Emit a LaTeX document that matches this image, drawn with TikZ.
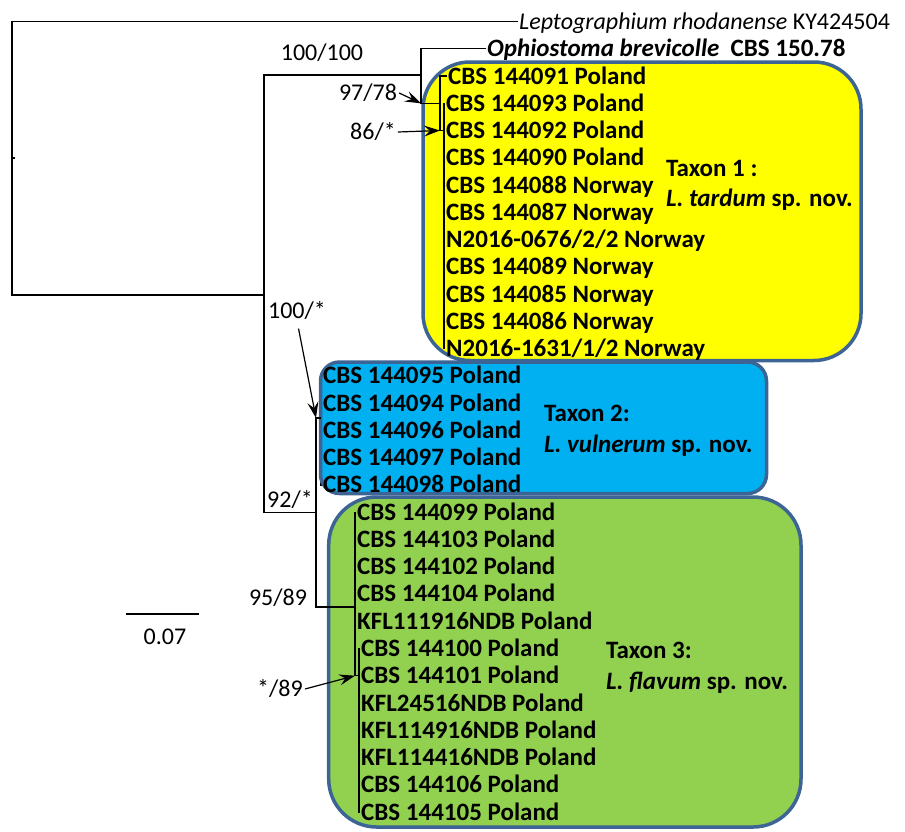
\documentclass[tikz,border=0pt]{standalone}
\usepackage{fontspec}
\setmainfont{Carlito}
\usetikzlibrary{arrows.meta,backgrounds}
\definecolor{txYellow}{HTML}{FFFF00}
\definecolor{txBlue}{HTML}{00B0F0}
\definecolor{txGreen}{HTML}{92D050}
\definecolor{txEdge}{HTML}{3C6494}

\begin{document}
\begin{tikzpicture}[
  x=1pt,y=-1pt,
  branch/.style={line width=1.3pt,black},
  clade/.style={draw=txEdge,line width=3.5pt},
  leaf/.style={anchor=west,inner sep=1pt,text height=16pt,text depth=0pt,font=\fontsize{25}{27}\selectfont\bfseries},
  support/.style={inner sep=2pt,text height=15pt,text depth=0pt,font=\fontsize{24}{26}\selectfont},
  pointer/.style={-{Stealth[length=16pt,width=11pt,inset=6pt]},line width=1.2pt}
]
  \useasboundingbox (0,0) rectangle (905,831);

  % internal nodes of the tree
  \coordinate (nRoot) at (12,158);
  \coordinate (nA) at (264,295);
  \coordinate (nB) at (421,75);
  \coordinate (nC) at (440,103.3);
  \coordinate (nD) at (444,130.5);
  \coordinate (nE) at (316,512.2);
  \coordinate (nF) at (321,418);
  \coordinate (nG) at (355,607);
  \coordinate (nH) at (359,675.7);

  % outgroups
  \node[support,anchor=west,inner sep=1pt] (lepto) at (518,21.5) {\textit{Leptographium rhodanense} KY424504};
  \node[leaf] (ophio) at (486,48.7) {\textit{Ophiostoma brevicolle}\ \ CBS 150.78};

  % taxon 1
  \node[leaf] (t1) at (447,76) {CBS 144091 Poland};
  \node[leaf] (t2) at (445,103.3) {CBS 144093 Poland};
  \node[leaf] (t3) at (445,130.5) {CBS 144092 Poland};
  \node[leaf] (t4) at (445,157.8) {CBS 144090 Poland};
  \node[leaf] (t5) at (445,185) {CBS 144088 Norway};
  \node[leaf] (t6) at (445,212.3) {CBS 144087 Norway};
  \node[leaf] (t7) at (445,239.6) {N2016-0676/2/2 Norway};
  \node[leaf] (t8) at (445,266.8) {CBS 144089 Norway};
  \node[leaf] (t9) at (445,294.1) {CBS 144085 Norway};
  \node[leaf] (t10) at (445,321.3) {CBS 144086 Norway};
  \node[leaf] (t11) at (445,348.6) {N2016-1631/1/2 Norway};

  % taxon 2
  \node[leaf] (v1) at (322,375.9) {CBS 144095 Poland};
  \node[leaf] (v2) at (322,403.1) {CBS 144094 Poland};
  \node[leaf] (v3) at (322,430.4) {CBS 144096 Poland};
  \node[leaf] (v4) at (322,457.6) {CBS 144097 Poland};
  \node[leaf] (v5) at (322,484.9) {CBS 144098 Poland};

  % taxon 3
  \node[leaf] (f1) at (356,512.2) {CBS 144099 Poland};
  \node[leaf] (f2) at (356,539.4) {CBS 144103 Poland};
  \node[leaf] (f3) at (356,566.7) {CBS 144102 Poland};
  \node[leaf] (f4) at (356,593.9) {CBS 144104 Poland};
  \node[leaf] (f5) at (356,621.2) {KFL111916NDB Poland};
  \node[leaf] (f6) at (360,648.5) {CBS 144100 Poland};
  \node[leaf] (f7) at (360,675.7) {CBS 144101 Poland};
  \node[leaf] (f8) at (360,703) {KFL24516NDB Poland};
  \node[leaf] (f9) at (360,730.2) {KFL114916NDB Poland};
  \node[leaf] (f10) at (360,757.5) {KFL114416NDB Poland};
  \node[leaf] (f11) at (360,784.8) {CBS 144106 Poland};
  \node[leaf] (f12) at (360,812) {CBS 144105 Poland};

  % taxon names
  \node[leaf] (tax1) at (665,168) {Taxon 1 :};
  \node[leaf] (tax1sp) at (665,198) {\textit{L. tardum} sp. nov.};
  \node[leaf] (tax2) at (543,413) {Taxon 2:};
  \node[leaf] (tax2sp) at (543,444) {\textit{L. vulnerum} sp. nov.};
  \node[leaf] (tax3) at (605,650) {Taxon 3:};
  \node[leaf] (tax3sp) at (605,681) {\textit{L. flavum} sp. nov.};

  % support values
  \node[support] (s100a) at (322,53) {100/100};
  \node[support] (s97) at (368,93) {97/78};
  \node[support] (s86) at (373,132) {86/*};
  \node[support] (s100b) at (297,311) {100/*};
  \node[support] (s92) at (290,500) {92/*};
  \node[support] (s95) at (278,598) {95/89};
  \node[support] (s89) at (280,689) {*/89};

  \begin{scope}[on background layer]
    \draw[branch] (v1.west) -| (nF) |- (v5.west);
    \filldraw[clade,fill=txYellow,rounded corners=47pt] (423,62) rectangle (861,360.5);
    \filldraw[clade,fill=txBlue,rounded corners=19pt] (320.5,362) rectangle (766.5,493.5);
    \filldraw[clade,fill=txGreen,rounded corners=48pt] (328.7,497) rectangle (801,827);
  \end{scope}

  \draw[branch] (lepto.west) -| (nRoot) |- (nA);
  \draw[branch] (nRoot) -- +(3,0);
  \draw[branch] (nB) -| (nA) |- (nE);
  \draw[branch] (ophio.west) -| (nB) |- (nC);
  \draw[branch] (t1.west) -| (nC) |- (nD);
  \draw[branch] (t2.west) -| (nD) |- (t11.west);
  \draw[branch] (nF) -| (nE) |- (nG);
  \draw[branch] (f1.west) -| (nG) |- (nH);
  \draw[branch] (f6.west) -| (nH) |- (f12.west);

  \draw[pointer] (s97.east) -- (nB |- nC);
  \draw[pointer] (s86.east) -- (nC |- nD);
  \draw[pointer,shorten <=8pt] (s100b.south) -- (nE |- nF);
  \draw[pointer] (s89.east) -- (nG |- nH);

  % scale bar
  \coordinate (sbL) at (126,614);
  \coordinate (sbR) at (199,614);
  \draw[branch] (sbL) -- (sbR);
  \node[support] (sbText) at (165,637) {0.07};
\end{tikzpicture}
\end{document}
